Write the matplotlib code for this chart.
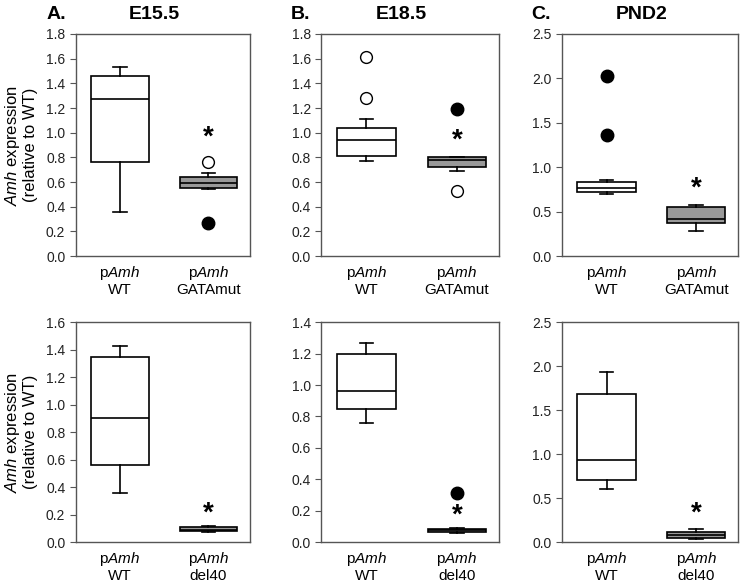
import matplotlib
matplotlib.use("Agg")
import matplotlib.pyplot as plt
from matplotlib.transforms import offset_copy

plt.rcParams['font.family'] = ['Liberation Sans', 'DejaVu Sans']
plt.rcParams['mathtext.fontset'] = 'custom'
plt.rcParams['mathtext.it'] = 'Liberation Sans:italic'
plt.rcParams['mathtext.rm'] = 'Liberation Sans'

# box stats: (whislo, q1, med, q3, whishi)
a_top_wt = (0.36, 0.76, 1.27, 1.46, 1.53)
a_top_mut = (0.54, 0.55, 0.59, 0.64, 0.67)
a_top_out_open = [[], [0.76]]
a_top_out_fill = [[], [0.27]]
a_top_star = 1.0

b_top_wt = (0.77, 0.81, 0.94, 1.04, 1.11)
b_top_mut = (0.69, 0.725, 0.78, 0.80, 0.80)
b_top_out_open = [[1.28, 1.61], [0.53]]
b_top_out_fill = [[], [1.19]]
b_top_star = 0.98

c_top_wt = (0.70, 0.72, 0.77, 0.83, 0.86)
c_top_mut = (0.28, 0.37, 0.42, 0.55, 0.58)
c_top_out_open = [[], []]
c_top_out_fill = [[2.03, 1.36], []]
c_top_star = 0.82

a_bot_wt = (0.36, 0.56, 0.90, 1.35, 1.43)
a_bot_del = (0.075, 0.08, 0.09, 0.11, 0.12)
a_bot_out_open = [[], []]
a_bot_out_fill = [[], []]
a_bot_star = 0.24

b_bot_wt = (0.76, 0.85, 0.96, 1.20, 1.27)
b_bot_del = (0.06, 0.065, 0.075, 0.08, 0.09)
b_bot_out_open = [[], []]
b_bot_out_fill = [[], [0.31]]
b_bot_star = 0.20

c_bot_wt = (0.60, 0.71, 0.93, 1.68, 1.94)
c_bot_del = (0.04, 0.05, 0.08, 0.12, 0.15)
c_bot_out_open = [[], []]
c_bot_out_fill = [[], []]
c_bot_star = 0.38

top_labels = ["p$\\it{Amh}$\nWT", "p$\\it{Amh}$\nGATAmut"]
bot_labels = ["p$\\it{Amh}$\nWT", "p$\\it{Amh}$\ndel40"]

panel_letters = ["A.", "B.", "C."]
panel_titles = ["E15.5", "E18.5", "PND2"]

top_ylims = [(0, 1.8, 0.2), (0, 1.8, 0.2), (0, 2.5, 0.5)]
bot_ylims = [(0, 1.6, 0.2), (0, 1.4, 0.2), (0, 2.5, 0.5)]

gray = "#999999"
edge = "#555555"

fig = plt.figure(figsize=(7.42, 5.86), dpi=100)

col_left = [0.102, 0.433, 0.757]
col_width = [0.235, 0.24, 0.238]
top_bottom, top_h = 0.563, 0.379
bot_bottom, bot_h = 0.075, 0.375


def draw_panel(ax, wt, mut, out_open, out_fill, star, labels, ylim):
    stats = []
    for s in (wt, mut):
        stats.append(dict(whislo=s[0], q1=s[1], med=s[2], q3=s[3], whishi=s[4], fliers=[]))
    bp = ax.bxp(stats, positions=[1, 2], widths=0.65, patch_artist=True,
                showfliers=False,
                boxprops=dict(linewidth=1.2, edgecolor='black'),
                medianprops=dict(color='black', linewidth=1.2),
                whiskerprops=dict(color='black', linewidth=1.2),
                capprops=dict(color='black', linewidth=1.2),
                capwidths=0.15)
    bp['boxes'][0].set_facecolor('white')
    bp['boxes'][1].set_facecolor(gray)
    for i, pos in enumerate([1, 2]):
        if out_open[i]:
            ax.plot([pos] * len(out_open[i]), out_open[i], 'o', ms=8.5,
                    mfc='white', mec='black', mew=1.0)
        if out_fill[i]:
            ax.plot([pos] * len(out_fill[i]), out_fill[i], 'o', ms=9,
                    mfc='black', mec='black')
    star_tr = offset_copy(ax.transData, fig=ax.figure, x=0, y=-5, units='dots')
    ax.text(2, star, "*", ha='center', va='center', fontsize=20,
            fontweight='bold', transform=star_tr)
    lo, hi, step = ylim
    ax.set_ylim(lo, hi)
    n = int(round((hi - lo) / step))
    ax.set_yticks([lo + k * step for k in range(n + 1)])
    ax.yaxis.set_major_formatter(matplotlib.ticker.FormatStrFormatter('%.1f'))
    ax.set_xlim(0.5, 2.47)
    ax.set_xticks([1, 2])
    ax.set_xticklabels(labels, fontsize=11, linespacing=1.05)
    ax.tick_params(axis='x', length=0, pad=6)
    ax.tick_params(axis='y', labelsize=10, length=4, color=edge,
                   labelcolor='#222222', direction='out')
    for sp in ax.spines.values():
        sp.set_color(edge)
        sp.set_linewidth(1.0)


top_data = [
    (a_top_wt, a_top_mut, a_top_out_open, a_top_out_fill, a_top_star),
    (b_top_wt, b_top_mut, b_top_out_open, b_top_out_fill, b_top_star),
    (c_top_wt, c_top_mut, c_top_out_open, c_top_out_fill, c_top_star),
]
bot_data = [
    (a_bot_wt, a_bot_del, a_bot_out_open, a_bot_out_fill, a_bot_star),
    (b_bot_wt, b_bot_del, b_bot_out_open, b_bot_out_fill, b_bot_star),
    (c_bot_wt, c_bot_del, c_bot_out_open, c_bot_out_fill, c_bot_star),
]

for i in range(3):
    ax = fig.add_axes([col_left[i], top_bottom, col_width[i], top_h])
    wt, mut, oo, of, st = top_data[i]
    draw_panel(ax, wt, mut, oo, of, st, top_labels, top_ylims[i])
    ax.text(-0.17, 1.05, panel_letters[i], transform=ax.transAxes,
            fontsize=14, fontweight='bold', ha='left', va='bottom')
    ax.text(0.45, 1.05, panel_titles[i], transform=ax.transAxes,
            fontsize=14, fontweight='bold', ha='center', va='bottom')
    if i == 0:
        ax.set_ylabel("$\\it{Amh}$ expression\n(relative to WT)",
                      fontsize=12, labelpad=6, linespacing=1.05)

    ax2 = fig.add_axes([col_left[i], bot_bottom, col_width[i], bot_h])
    wt, mut, oo, of, st = bot_data[i]
    draw_panel(ax2, wt, mut, oo, of, st, bot_labels, bot_ylims[i])
    if i == 0:
        ax2.set_ylabel("$\\it{Amh}$ expression\n(relative to WT)",
                       fontsize=12, labelpad=6, linespacing=1.05)

fig.savefig("out.png", dpi=100)
